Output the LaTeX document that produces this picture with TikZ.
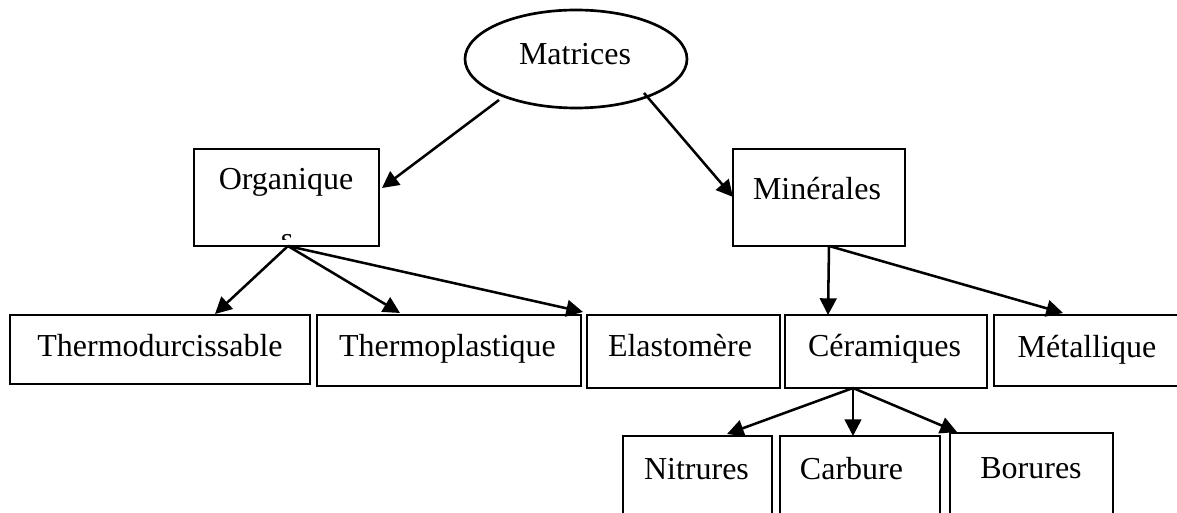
\documentclass[tikz,border=0pt]{standalone}
\usepackage{fontspec}
\setmainfont{Liberation Serif}
\usetikzlibrary{shapes.geometric,arrows.meta,fit}
\begin{document}
\begin{tikzpicture}[x=0.75pt,y=-0.75pt,
  box/.style={draw,line width=2pt,rectangle,inner sep=0pt,outer sep=0pt},
  oval/.style={draw,line width=2pt,ellipse,inner sep=0pt,outer sep=0pt},
  txt/.style={anchor=base,font=\fontsize{24pt}{28pt}\selectfont,inner sep=0pt},
  arr/.style={line width=1.9pt,-{Triangle[length=12.5pt,width=12.5pt]}}]
\useasboundingbox (0,0) rectangle (1177,513);
\clip (0,0) rectangle (1177,513);
% top ellipse
\node[oval,minimum width=166.5pt,minimum height=73.5pt] (mat) at (576,59) {};
\node[txt] (matT) at (575,65) {Matrices};
% level 1
\node[box,fit={(194,149)(379,246)}] (org) {};
\node[txt] (orgT) at (286,190) {Organique};
\begin{scope}
\clip (196,151) rectangle (377,240);
\node[txt] (orgS) at (287,250) {s};
\end{scope}
\node[box,fit={(733,149)(905,246)}] (min) {};
\node[txt] (minT) at (817,200) {Minérales};
% level 2
\node[box,fit={(10,315)(310,384)}] (thd) {};
\node[txt] (thdT) at (160,356) {Thermodurcissable};
\node[box,fit={(317,315)(581,386)}] (thp) {};
\node[txt] (thpT) at (447.5,356) {Thermoplastique};
\node[box,fit={(587,315)(780,388)}] (ela) {};
\node[txt] (elaT) at (680,356) {Elastomère};
\node[box,fit={(785,315)(987,388)}] (cer) {};
\node[txt] (cerT) at (884.5,356) {Céramiques};
\node[box,fit={(994,315)(1180,386)}] (met) {};
\node[txt] (metT) at (1087,357) {Métallique};
% level 3
\node[box,fit={(623,436)(772,530)}] (nit) {};
\node[txt] (nitT) at (696.5,479) {Nitrures};
\node[box,fit={(780,436)(940,530)}] (car) {};
\node[txt] (carT) at (851.5,479) {Carbure};
\node[box,fit={(950,433)(1113,530)}] (bor) {};
\node[txt] (borT) at (1031,478) {Borures};
% connectors
\draw[arr] ([shift={(-77,41)}]mat.center) -- ([shift={(3,39)}]org.north east);
\draw[arr] ([shift={(68,34)}]mat.center) -- ([shift={(0,48)}]min.north west);
\draw[arr] ([shift={(1.5,0)}]org.south) -- ([shift={(205,-1)}]thd.north west);
\draw[arr] ([shift={(1.5,0)}]org.south) -- ([shift={(83,-2)}]thp.north west);
\draw[arr] ([shift={(1.5,0)}]org.south) -- ([shift={(-4,-3)}]ela.north west);
\draw[arr] ([shift={(96,0)}]min.south west) -- ([shift={(43,0)}]cer.north west);
\draw[arr] ([shift={(96,0)}]min.south west) -- ([shift={(69,-2)}]met.north west);
\draw[arr] ([shift={(68,0)}]cer.south west) -- ([shift={(104,-2)}]nit.north west);
\draw[arr] ([shift={(68,0)}]cer.south west) -- ([shift={(73,0)}]car.north west);
\draw[arr] ([shift={(68,0)}]cer.south west) -- ([shift={(7,-1)}]bor.north west);
\end{tikzpicture}
\end{document}
